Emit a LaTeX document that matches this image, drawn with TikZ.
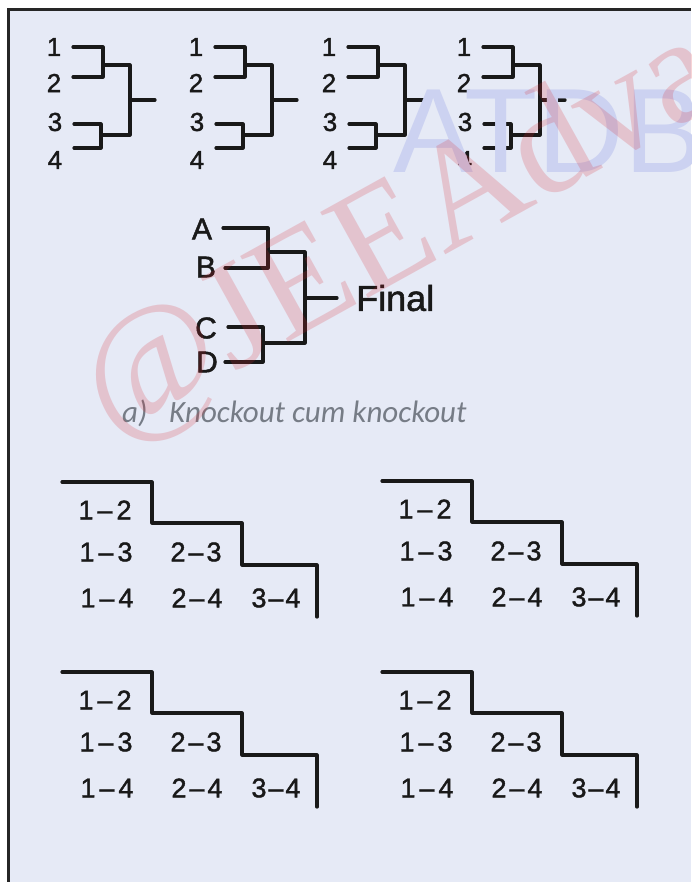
\documentclass[tikz,border=0pt]{standalone}
\usepackage{fontspec}
\setmainfont{Liberation Sans}
\newfontfamily\hand[FakeBold=1.5,Ligatures=TeX]{Liberation Sans}
\newfontfamily\capfont{Carlito}
\newfontfamily\wmserif{Liberation Serif}
\definecolor{panel}{RGB}{230,234,246}
\definecolor{wmblue}{RGB}{204,210,241}
\definecolor{wmred}{RGB}{215,40,50}
\definecolor{capgray}{RGB}{118,124,134}
\begin{document}
\begin{tikzpicture}[x=1pt,y=-1pt,
  ln/.style={line width=3.2pt, line cap=round, line join=round, black!90},
  numlabel/.style={font=\hand\fontsize{26}{26}\selectfont, inner sep=0pt, black!90},
  letlabel/.style={font=\hand\fontsize{30}{30}\selectfont, inner sep=0pt, black!90},
  pairlabel/.style={font=\hand\fontsize{27}{27}\selectfont, inner sep=0pt, black!90},
  captext/.style={font=\capfont\itshape\fontsize{31}{31}\selectfont, inner sep=0pt, text=capgray}]
\useasboundingbox (0,0) rectangle (691,882);
\fill[white] (0,0) rectangle (691,882);
\fill[panel] (8,10) rectangle (691,882);
\draw[line width=3pt, black!85] (8,882) -- (8,10) -- (691,10);

% knockout brackets
\foreach \i/\dx in {1/0,2/142,3/275,4/410}{
 \begin{scope}[xshift=\dx]
  \node[numlabel] (k\i-1) at (54,47) {1};
  \node[numlabel] (k\i-2) at (54,83) {2};
  \node[numlabel] (k\i-3) at (55,122) {3};
  \node[numlabel] (k\i-4) at (55,160) {4};
  \coordinate (k\i-p1) at (73,47);
  \coordinate (k\i-p2) at (73,77);
  \coordinate (k\i-p3) at (74,124);
  \coordinate (k\i-p4) at (74,148);
  \coordinate (k\i-q12) at (103,65);
  \coordinate (k\i-q34) at (101,135);
  \coordinate (k\i-f) at (130,100);
  \coordinate (k\i-o) at (155,100);
  \draw[ln] (k\i-p1) -| (k\i-q12) |- (k\i-p2);
  \draw[ln] (k\i-p3) -| (k\i-q34) |- (k\i-p4);
  \draw[ln] (k\i-q12) -| (k\i-f) |- (k\i-q34);
  \draw[ln] (k\i-f) -- (k\i-o);
 \end{scope}}

% final bracket
\node[letlabel] (A) at (202,229) {A};
\node[letlabel] (B) at (206,267) {B};
\node[letlabel] (C) at (206,328) {C};
\node[letlabel] (D) at (207,362) {D};
\coordinate (mA) at (223,228);
\coordinate (mB) at (225,268);
\coordinate (mAB) at (268,252);
\coordinate (mC) at (228,327);
\coordinate (mD) at (225,362);
\coordinate (mCD) at (263,343);
\coordinate (mF) at (305,298);
\coordinate (mO) at (337,298);
\node[letlabel, font=\hand\fontsize{36}{36}\selectfont, anchor=west] (fin) at (356,298) {Final};
\draw[ln] (mA) -| (mAB) |- (mB);
\draw[ln] (mC) -| (mCD) |- (mD);
\draw[ln] (mAB) -| (mF) |- (mCD);
\draw[ln] (mF) -- (mO);

% caption
\node[captext, anchor=base west] (capa) at (122,422) {a)};
\node[captext, anchor=base west] (capt) at (169,422) {Knockout cum knockout};

% round robin tables
\foreach \j/\dx/\dy in {1/0/0,2/320/-1,3/0/190,4/320/190}{
 \begin{scope}[shift={(\dx,\dy)}]
  \coordinate (r\j-a) at (62,482);
  \coordinate (r\j-b) at (152,523);
  \coordinate (r\j-c) at (242,565);
  \coordinate (r\j-d) at (317,617);
  \draw[ln] (r\j-a) -| (r\j-b) -| (r\j-c) -| (r\j-d);
  \node[pairlabel] (r\j-12) at (105,510) {1\kern4pt–\kern4pt2};
  \node[pairlabel] (r\j-13) at (106,552) {1\kern4pt–\kern4pt3};
  \node[pairlabel] (r\j-23) at (196,552) {2\kern3pt–\kern3pt3};
  \node[pairlabel] (r\j-14) at (107,598) {1\kern4pt–\kern4pt4};
  \node[pairlabel] (r\j-24) at (197,598) {2\kern3pt–\kern3pt4};
  \node[pairlabel] (r\j-34) at (276,598) {3\kern2pt–\kern2pt4};
 \end{scope}}

% watermarks
\begin{scope}
 \clip (8,10) rectangle (691,882);
 \node[anchor=base west, inner sep=0pt, text=wmblue, font=\fontsize{120}{120}\selectfont] (wm1) at (393,173) {ATDB};
 \node[anchor=base west, inner sep=0pt, rotate=29, text=wmred, text opacity=0.2, font=\wmserif\fontsize{150}{150}\selectfont] (wm2) at (112,440) {@JEEAdvanced};
\end{scope}
\end{tikzpicture}
\end{document}
